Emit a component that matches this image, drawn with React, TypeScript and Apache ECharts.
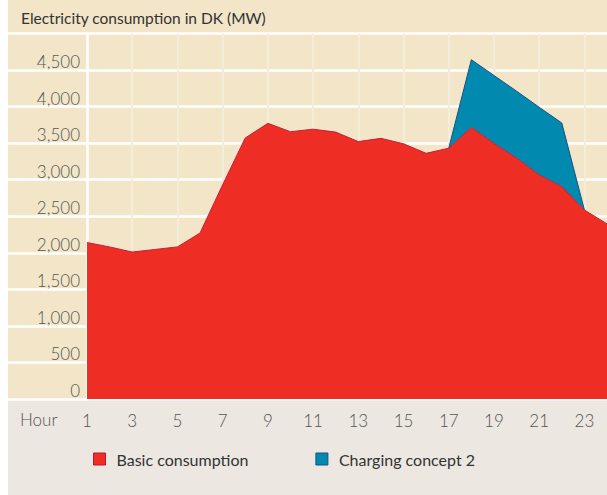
import React, { useEffect, useRef } from "react";
import * as echarts from "echarts";

const hours = ["1", "2", "3", "4", "5", "6", "7", "8", "9", "10", "11", "12", "13", "14", "15", "16", "17", "18", "19", "20", "21", "22", "23", "24"];
const basicConsumption = [2140, 2080, 2010, 2045, 2080, 2270, 2930, 3570, 3770, 3655, 3690, 3650, 3520, 3565, 3490, 3360, 3430, 3715, 3495, 3295, 3065, 2905, 2585, 2395];
// extra load of charging concept 2, stacked on top of basic consumption
const chargingConcept2 = ["-", "-", "-", "-", "-", "-", "-", "-", "-", "-", "-", "-", "-", "-", "-", "-", 0, 925, 930, 915, 925, 870, 0, "-"];

const FONT = "Lato, 'Open Sans', sans-serif";

export default function App() {
  const ref = useRef<HTMLDivElement>(null);
  useEffect(() => {
    if (!ref.current) return;
    const chart = echarts.init(ref.current, undefined, { renderer: "svg" });
    chart.setOption({
      animation: false,
      backgroundColor: "transparent",
      title: {
        text: "Electricity consumption in DK (MW)",
        left: 13,
        top: 10,
        padding: 0,
        textStyle: { fontFamily: FONT, fontSize: 15.5, fontWeight: "normal", color: "#333333" },
      },
      legend: {
        left: 85,
        top: 451,
        padding: 0,
        icon: "rect",
        itemWidth: 12,
        itemHeight: 12,
        itemGap: 67,
        textStyle: { fontFamily: FONT, fontSize: 16, color: "#333333", padding: [0, 0, 0, 6] },
        data: [
          { name: "Basic consumption", itemStyle: { color: "#ee2e24", borderColor: "#c4122f", borderWidth: 1 } },
          { name: "Charging concept 2", itemStyle: { color: "#0289b0", borderColor: "#1b4f80", borderWidth: 1 } },
        ],
      },
      graphic: [
        {
          type: "text",
          left: 12,
          top: 411,
          style: { text: "Hour", fontFamily: FONT, fontSize: 17, fontWeight: 300, fill: "#555555" },
        },
      ],
      grid: [
        { left: 0, right: 0, top: 33.4, bottom: 96 },
        { left: 79, right: 0, top: 33.4, bottom: 96 },
      ],
      xAxis: [
        { gridIndex: 0, type: "value", min: 0, max: 1, show: false },
        {
          gridIndex: 1,
          type: "category",
          data: hours,
          boundaryGap: false,
          axisLine: { show: false },
          axisTick: { show: false },
          axisLabel: {
            interval: 1,
            margin: 13,
            fontFamily: FONT,
            fontSize: 17,
            fontWeight: 300,
            color: "#555555",
          },
          splitLine: {
            show: true,
            interval: (i: number) => i % 2 === 0,
            lineStyle: { color: "#f5eddb", width: 2 },
          },
        },
      ],
      yAxis: [
        {
          gridIndex: 0,
          type: "value",
          min: 0,
          max: 5000,
          interval: 500,
          axisLine: { show: false },
          axisTick: { show: false },
          axisLabel: { show: false },
          splitLine: { show: true, lineStyle: { color: "#ffffff", width: 2.5 } },
        },
        {
          gridIndex: 1,
          type: "value",
          min: 0,
          max: 5000,
          interval: 500,
          axisLine: { show: true, lineStyle: { color: "#ffffff", width: 2.5 } },
          axisTick: { show: false },
          splitLine: { show: false },
          axisLabel: {
            showMaxLabel: false,
            margin: 7,
            verticalAlign: "bottom",
            fontFamily: FONT,
            fontSize: 17,
            fontWeight: 300,
            color: "#555555",
            formatter: (v: number) => v.toLocaleString("en-US"),
          },
        },
      ],
      series: [
        {
          name: "Basic consumption",
          type: "line",
          xAxisIndex: 1,
          yAxisIndex: 1,
          stack: "total",
          data: basicConsumption,
          symbol: "none",
          showSymbol: false,
          itemStyle: { color: "#ee2e24" },
          lineStyle: { color: "#c4203c", width: 1 },
          areaStyle: { color: "#ee2e24", opacity: 1 },
        },
        {
          name: "Charging concept 2",
          type: "line",
          xAxisIndex: 1,
          yAxisIndex: 1,
          stack: "total",
          data: chargingConcept2,
          symbol: "none",
          showSymbol: false,
          itemStyle: { color: "#0289b0" },
          lineStyle: { color: "#1b4f80", width: 1 },
          areaStyle: { color: "#0289b0", opacity: 1 },
        },
      ],
    });
    return () => chart.dispose();
  }, []);
  return (
    <div
      ref={ref}
      style={{
        position: "fixed",
        left: 8,
        top: 0,
        width: 599,
        height: 495,
        background: "linear-gradient(to bottom, #f2e5c8 0px, #f2e5c8 400px, #ece7e0 400px, #ece7e0 495px)",
      }}
    />
  );
}
